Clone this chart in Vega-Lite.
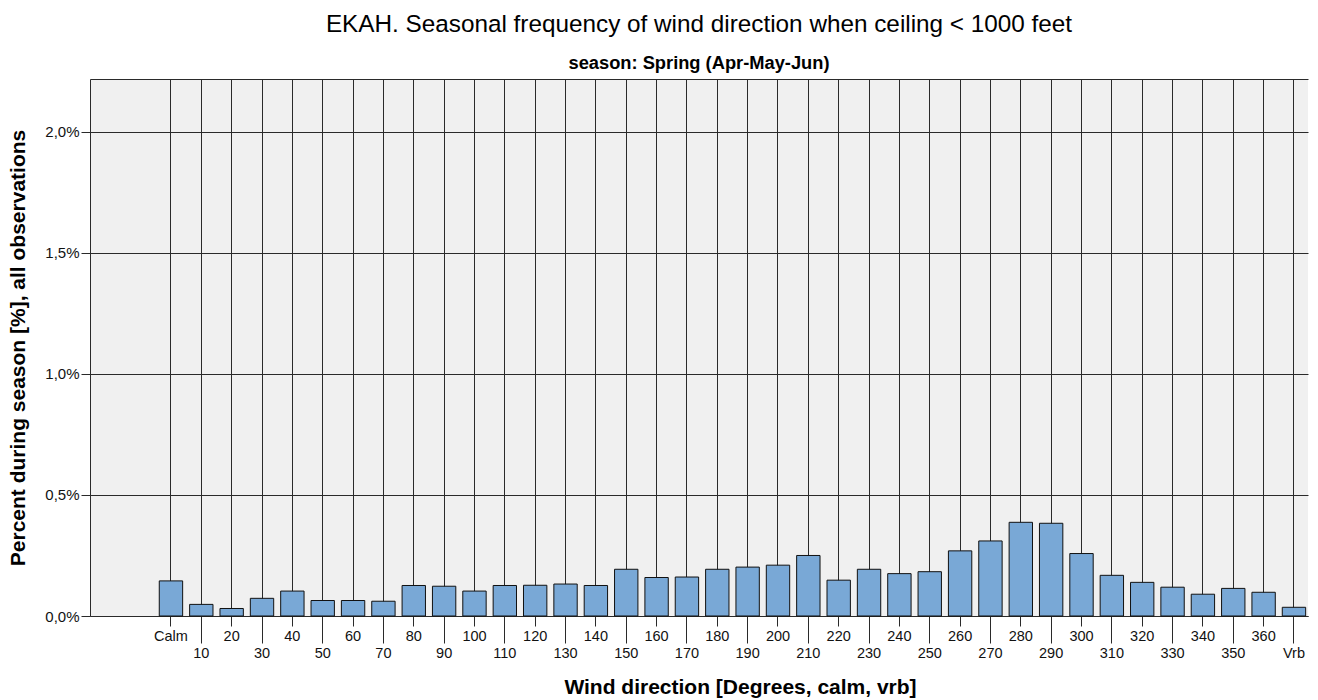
{
  "$schema": "https://vega.github.io/schema/vega-lite/v6.json",
  "width": 1218,
  "height": 537,
  "autosize": "none",
  "padding": {"left": 90, "top": 79, "right": 10, "bottom": 84},
  "background": "white",
  "title": {
    "text": "EKAH. Seasonal frequency of wind direction when ceiling < 1000 feet",
    "subtitle": "season: Spring (Apr-May-Jun)",
    "font": "Liberation Sans",
    "fontSize": 24.3,
    "fontWeight": "normal",
    "color": "#000000",
    "subtitleFont": "Liberation Sans",
    "subtitleFontSize": 18.3,
    "subtitleFontWeight": "bold",
    "subtitleColor": "#000000",
    "anchor": "middle",
    "offset": 7,
    "subtitlePadding": 17
  },
  "data": {
    "values": [
      {"direction": "Calm", "percent": 0.145},
      {"direction": "10", "percent": 0.048},
      {"direction": "20", "percent": 0.031},
      {"direction": "30", "percent": 0.073},
      {"direction": "40", "percent": 0.103},
      {"direction": "50", "percent": 0.064},
      {"direction": "60", "percent": 0.064},
      {"direction": "70", "percent": 0.061},
      {"direction": "80", "percent": 0.126},
      {"direction": "90", "percent": 0.123},
      {"direction": "100", "percent": 0.103},
      {"direction": "110", "percent": 0.126},
      {"direction": "120", "percent": 0.127},
      {"direction": "130", "percent": 0.132},
      {"direction": "140", "percent": 0.126},
      {"direction": "150", "percent": 0.193},
      {"direction": "160", "percent": 0.159},
      {"direction": "170", "percent": 0.161},
      {"direction": "180", "percent": 0.193},
      {"direction": "190", "percent": 0.202},
      {"direction": "200", "percent": 0.210},
      {"direction": "210", "percent": 0.250},
      {"direction": "220", "percent": 0.148},
      {"direction": "230", "percent": 0.193},
      {"direction": "240", "percent": 0.175},
      {"direction": "250", "percent": 0.183},
      {"direction": "260", "percent": 0.269},
      {"direction": "270", "percent": 0.310},
      {"direction": "280", "percent": 0.387},
      {"direction": "290", "percent": 0.383},
      {"direction": "300", "percent": 0.258},
      {"direction": "310", "percent": 0.168},
      {"direction": "320", "percent": 0.139},
      {"direction": "330", "percent": 0.119},
      {"direction": "340", "percent": 0.090},
      {"direction": "350", "percent": 0.114},
      {"direction": "360", "percent": 0.098},
      {"direction": "Vrb", "percent": 0.036}
    ]
  },
  "layer": [
    {
      "mark": {"type": "bar", "fill": "#79a8d6", "stroke": "#111111", "strokeWidth": 1},
      "encoding": {
        "x": {
          "field": "direction",
          "type": "nominal",
          "sort": null,
          "scale": {
            "domain": [" ", "Calm", "10", "20", "30", "40", "50", "60", "70", "80", "90", "100", "110", "120", "130", "140", "150", "160", "170", "180", "190", "200", "210", "220", "230", "240", "250", "260", "270", "280", "290", "300", "310", "320", "330", "340", "350", "360", "Vrb"],
            "paddingInner": 0.23,
            "paddingOuter": 0.68,
            "align": 0.943
          },
          "axis": {
            "values": ["Calm", "10", "20", "30", "40", "50", "60", "70", "80", "90", "100", "110", "120", "130", "140", "150", "160", "170", "180", "190", "200", "210", "220", "230", "240", "250", "260", "270", "280", "290", "300", "310", "320", "330", "340", "350", "360", "Vrb"],
            "title": "Wind direction [Degrees, calm, vrb]",
            "titleFont": "Liberation Sans",
            "titleFontSize": 21,
            "titleFontWeight": "bold",
            "titleColor": "#000000",
            "titlePadding": 17,
            "titleX": 650,
            "labelFont": "Liberation Sans",
            "labelFontSize": 14.5,
            "labelColor": "#111111",
            "labelAngle": 0,
            "labelPadding": 3,
            "labelBaseline": "top",
            "labelOverlap": false,
            "tickColor": "#2a2a2a",
            "tickWidth": 1,
            "tickSize": {
              "condition": {"test": "datum.value == 'Vrb' || (datum.value != 'Calm' && toNumber(datum.value) % 20 == 10)", "value": 27},
              "value": 10
            },
            "domainColor": "#2a2a2a",
            "domainWidth": 1,
            "grid": true,
            "gridColor": "#2a2a2a",
            "gridWidth": 1,
            "gridOpacity": 1
          }
        },
        "y": {
          "field": "percent",
          "type": "quantitative",
          "scale": {"domain": [0, 2.218], "nice": false, "zero": true},
          "axis": {
            "title": "Percent during season [%], all observations",
            "titleFont": "Liberation Sans",
            "titleFontSize": 21,
            "titleFontWeight": "bold",
            "titleColor": "#000000",
            "titlePadding": 16,
            "values": [0, 0.5, 1, 1.5, 2],
            "labelExpr": "replace(format(datum.value, '.1f'), '.', ',') + '%'",
            "labelFont": "Liberation Sans",
            "labelFontSize": 15,
            "labelColor": "#111111",
            "labelPadding": 2,
            "tickSize": 9,
            "tickColor": "#2a2a2a",
            "domainColor": "#2a2a2a",
            "grid": true,
            "gridColor": "#2a2a2a",
            "gridWidth": 1,
            "gridOpacity": 1
          }
        }
      }
    },
    {
      "mark": {"type": "bar", "opacity": 0},
      "encoding": {
        "x": {
          "field": "direction",
          "type": "nominal",
          "sort": null,
          "axis": {"orient": "top", "domain": true, "domainColor": "#2a2a2a", "ticks": false, "labels": false, "grid": false, "title": null}
        },
        "y": {"field": "percent", "type": "quantitative", "axis": null}
      }
    }
  ],
  "resolve": {"axis": {"x": "independent", "y": "independent"}},
  "config": {"view": {"fill": "#f0f0f0", "stroke": null}}
}
